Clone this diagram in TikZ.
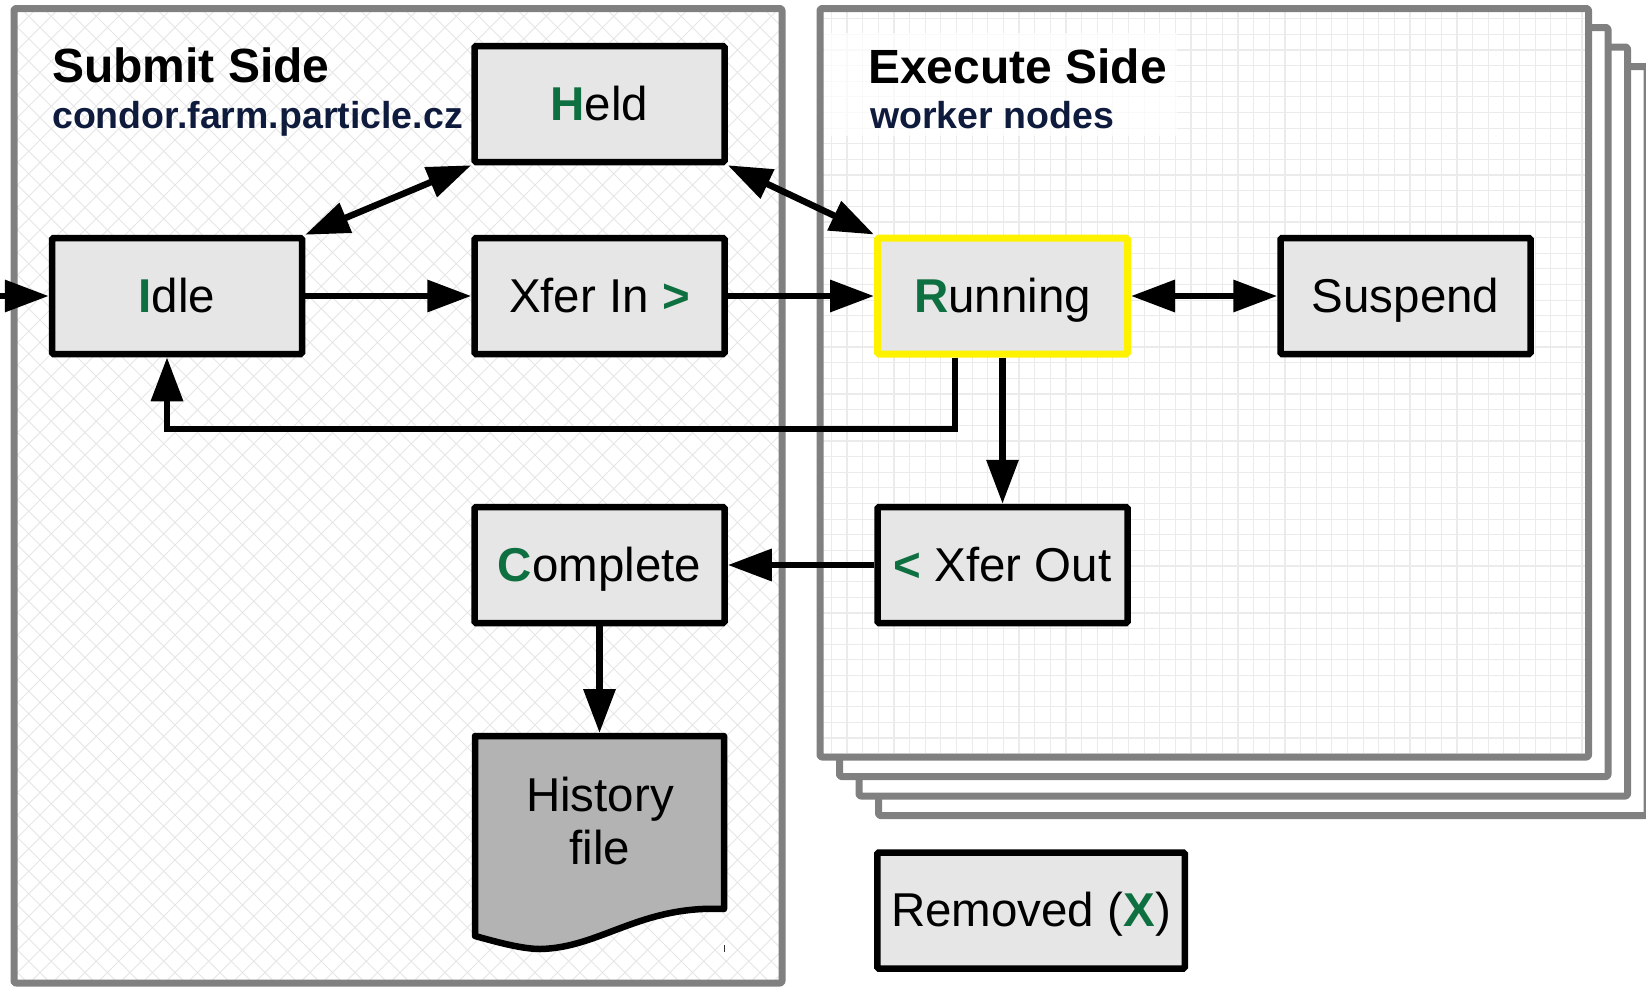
\documentclass[tikz,border=0pt]{standalone}
\usepackage{fontspec}
\setmainfont{Liberation Sans}
\usetikzlibrary{arrows.meta}
\definecolor{panelgray}{HTML}{808080}
\definecolor{boxfill}{HTML}{E6E6E6}
\definecolor{histfill}{HTML}{B3B3B3}
\definecolor{hgreen}{HTML}{0E7040}
\definecolor{navyc}{HTML}{0F1B3D}
\definecolor{runyellow}{HTML}{FFF200}
\definecolor{hatchc}{HTML}{E6E6E6}
\definecolor{gridc}{HTML}{EBEBEB}
\newcommand{\grn}[1]{\textbf{\textcolor{hgreen}{#1}}}
\begin{document}
\begin{tikzpicture}[x=1pt,y=-1pt,
  panel/.style={draw=panelgray, line width=7pt, rounded corners=2pt, line join=round},
  backpanel/.style={panel, fill=white},
  statebox/.style={draw=black, line width=6.5pt, fill=boxfill, minimum width=250pt,
    minimum height=116pt, inner sep=0pt, text height=32pt, text depth=0pt,
    font=\fontsize{47.5}{56}\selectfont, rounded corners=1.5pt},
  activebox/.style={statebox, draw=runyellow, line width=7pt},
  titletext/.style={anchor=base west, inner sep=0pt, font=\fontsize{48}{56}\selectfont\bfseries},
  subtext/.style={anchor=base west, inner sep=0pt, text=navyc, font=\fontsize{37.5}{44}\selectfont\bfseries},
  arr/.style={line width=6.5pt, -{Triangle[length=44pt,width=31pt]}},
  darr/.style={line width=6.5pt, {Triangle[length=44pt,width=31pt]}-{Triangle[length=44pt,width=31pt]}},
  hatchline/.style={draw=hatchc, line width=1pt},
  gridline/.style={draw=gridc, line width=1.2pt},
]
\useasboundingbox (0,0) rectangle (1646,986);
\fill[white] (0,0) rectangle (1646,986);

% ---------- Submit side panel ----------
\begin{scope}
  \clip (14,8.5) rectangle (782,983);
  \foreach \c in {0,22.5,...,1800} {
    \draw[hatchline] (\c,0) -- ++(-1000,1000);
  }
  \foreach \c in {-1000,-977.5,...,800} {
    \draw[hatchline] (\c,0) -- ++(1000,1000);
  }
\end{scope}
\draw[panel] (14,8.5) rectangle (782,983);

% ---------- Execute side panels (stack) ----------
\begin{scope}
  \clip (0,0) rectangle (1646,986);
  \draw[backpanel] (878.5,66.5) rectangle (1647,815.5);
  \draw[backpanel] (859,47) rectangle (1627.5,796);
  \draw[backpanel] (839.5,27.5) rectangle (1608,776.5);
\end{scope}
\fill[white] (820,8.5) rectangle (1588.5,757);
\begin{scope}
  \clip (820,8.5) rectangle (1588.5,757);
  \foreach \i in {0,...,50} {
    \draw[gridline] (815.7+15.64*\i,0) -- ++(0,1000);
  }
  \foreach \i in {0,...,50} {
    \draw[gridline] (800,3+15.64*\i) -- ++(900,0);
  }
  \fill[white, opacity=0.7] (824,33) rectangle (1177,136);
\end{scope}
\draw[panel] (820,8.5) rectangle (1588.5,757);

% ---------- Titles ----------
\node[titletext] (subtitle) at (52,82) {Submit Side};
\node[subtext] (subhost) at (52,128) {condor.farm.particle.cz};
\node[titletext] (extitle) at (868,83) {Execute Side};
\node[subtext] (exsub) at (870,128) {worker nodes};

% ---------- States ----------
\node[statebox] (Idle) at (177,296) {\grn{I}dle};
\node[statebox] (Held) at (599.5,104) {\grn{H}eld};
\node[statebox] (XferIn) at (599.5,296) {Xfer In \grn{>}};
\node[activebox] (Running) at (1002.5,296) {\grn{R}unning};
\node[statebox] (Suspend) at (1405.5,296) {Suspend};
\node[statebox] (XferOut) at (1002.5,565) {\grn{<} Xfer Out};
\node[statebox] (Complete) at (599.5,565) {\grn{C}omplete};
\node[statebox, minimum width=307.5pt] (Removed) at (1031,910.5) {Removed (\grn{X})};

% ---------- History file (document shape) ----------
\node[minimum width=256pt, minimum height=219pt, inner sep=0pt, outer sep=0pt] (hist) at (599.5,842.5) {};
\draw[line width=6.5pt, fill=histfill, line join=round]
  (475,736) -- (724,736) -- (724,909)
  .. controls (640,905) and (600,948) .. (540,949)
  .. controls (520,949) and (490,940) .. (475,936) -- cycle;
\node[align=center, inner sep=0pt, font=\fontsize{47.5}{53}\selectfont] (histtext) at (600,821) {History\\file};
\draw[line width=1pt, black!80] (724,945) -- (724,952);

% ---------- Connectors ----------
\coordinate (entry) at (0,296);
\coordinate (loopR) at (955,429);
\coordinate (loopL) at (167,429);
\draw[arr] (entry) -- (Idle.west);
\draw[darr] (Idle.north east) -- (Held.south west);
\draw[darr] (Held.south east) -- (Running.north west);
\draw[arr] (Idle) -- (XferIn);
\draw[arr] (XferIn) -- (Running);
\draw[darr] (Running) -- (Suspend);
\draw[arr] (Running.south -| loopR) -- (loopR) -- (loopL) -- (Idle.south -| loopL);
\draw[arr] (Running) -- (XferOut);
\draw[arr] (XferOut) -- (Complete);
\draw[arr] (Complete.south) -- (Complete.south |- hist.north);
\end{tikzpicture}
\end{document}
